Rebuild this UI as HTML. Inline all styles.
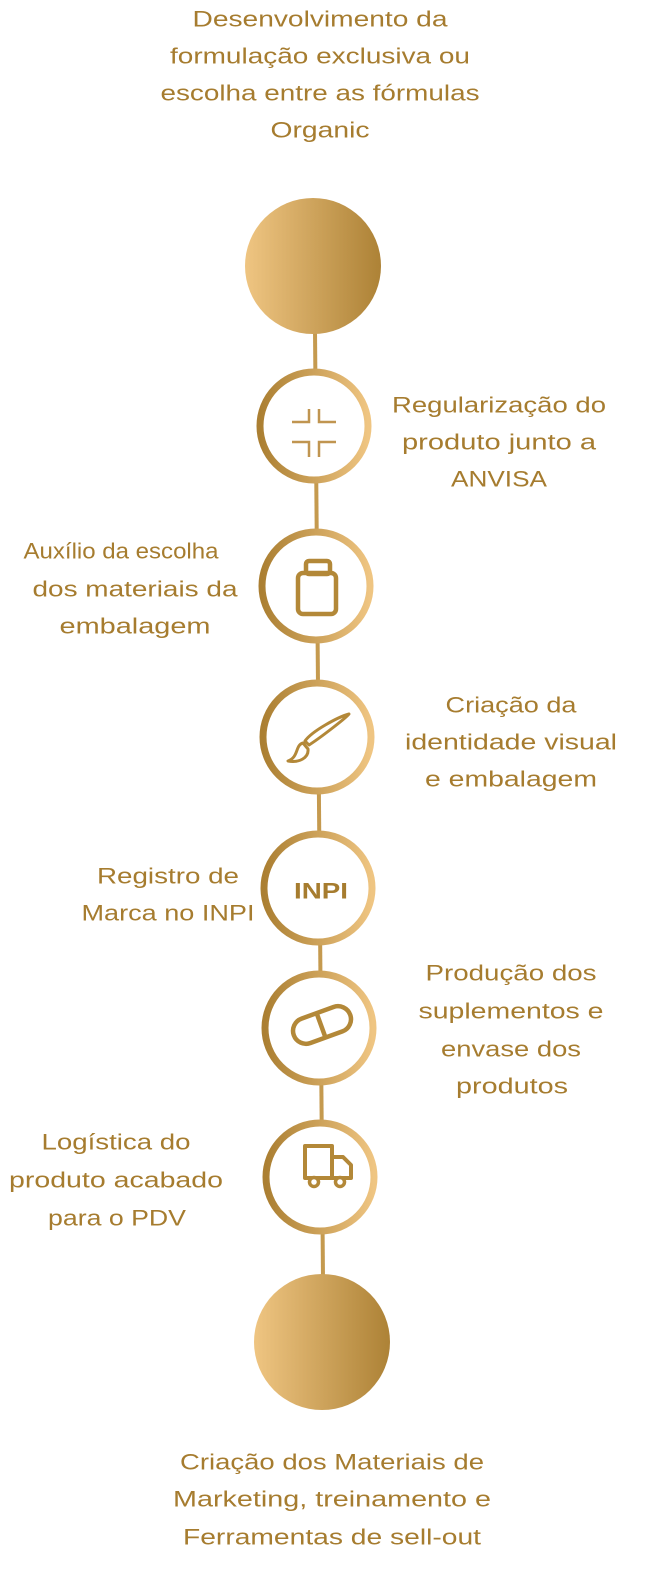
<!DOCTYPE html>
<html><head><meta charset="utf-8"><style>
html,body{margin:0;padding:0;background:#fff;}
svg{display:block}
text{font-family:"Liberation Sans",sans-serif;font-size:22px;fill:#a67c2f;text-anchor:middle;dominant-baseline:central}
</style></head><body>
<svg width="645" height="1593" viewBox="0 0 645 1593" xmlns="http://www.w3.org/2000/svg">
<defs>
<linearGradient id="fill" x1="0" x2="1" y1="0" y2="0"><stop offset="0" stop-color="#efc582"/><stop offset="1" stop-color="#ad8236"/></linearGradient>
<linearGradient id="ring" x1="0" x2="1" y1="0" y2="0"><stop offset="0" stop-color="#ab7f32"/><stop offset="1" stop-color="#efc582"/></linearGradient>
</defs>
<line x1="315" y1="330" x2="323" y2="1280" stroke="#c59a4f" stroke-width="4"/>
<circle cx="313" cy="266" r="68" fill="url(#fill)"/>
<circle cx="322" cy="1342" r="68" fill="url(#fill)"/>
<g fill="#fff" stroke="url(#ring)" stroke-width="7">
<circle cx="314" cy="426" r="54"/>
<circle cx="316" cy="586" r="54"/>
<circle cx="317" cy="737" r="54"/>
<circle cx="318" cy="888" r="54"/>
<circle cx="319" cy="1028" r="54"/>
<circle cx="320" cy="1177" r="54"/>
</g>
<g stroke="#b38838" stroke-width="3" fill="none">
<path d="M309 409 V422 H292 M319 409 V422 H336 M309 457 V442 H292 M319 457 V442 H336" stroke-width="2.5" stroke="#c09550"/>
<rect x="306" y="561" width="24" height="13" rx="3" stroke-width="4.5"/>
<rect x="298" y="573" width="38" height="41" rx="5" stroke-width="4.5"/>
<path d="M349 714 C346 718 320 738 309 745 L305 741 C312 731 338 717 349 714 Z M305 741 L309 745 M303 743 C295 745 299 757 288 761 C299 763 309 758 308 749 Z" stroke-width="3" stroke-linejoin="round"/>
<g transform="rotate(-20 322 1025)"><rect x="292" y="1012" width="60" height="26" rx="13" stroke-width="4.5"/><line x1="321" y1="1012" x2="321" y2="1038" stroke-width="4.5"/></g>
<path d="M305 1146 H332 V1178 H305 Z M332 1157 H343 L351 1165 V1178 H332" stroke-width="4" stroke-linejoin="round"/>
<circle cx="314" cy="1182" r="4.5" fill="#fff" stroke-width="3.5"/><circle cx="340" cy="1182" r="4.5" fill="#fff" stroke-width="3.5"/>
</g>
<text x="321" y="891" style="font-weight:bold;font-size:22px" textLength="54" lengthAdjust="spacingAndGlyphs">INPI</text>
<text x="320" y="19" textLength="255" lengthAdjust="spacingAndGlyphs">Desenvolvimento da</text>
<text x="320" y="56" textLength="300" lengthAdjust="spacingAndGlyphs">formulação exclusiva ou</text>
<text x="320" y="93" textLength="319" lengthAdjust="spacingAndGlyphs">escolha entre as fórmulas</text>
<text x="320" y="130" textLength="99" lengthAdjust="spacingAndGlyphs">Organic</text>
<text x="499" y="405" textLength="214" lengthAdjust="spacingAndGlyphs">Regularização do</text>
<text x="499" y="442" textLength="194" lengthAdjust="spacingAndGlyphs">produto junto a</text>
<text x="499" y="479" textLength="96" lengthAdjust="spacingAndGlyphs">ANVISA</text>
<text x="121" y="551" textLength="195" lengthAdjust="spacingAndGlyphs">Auxílio da escolha</text>
<text x="135" y="589" textLength="205" lengthAdjust="spacingAndGlyphs">dos materiais da</text>
<text x="135" y="626" textLength="151" lengthAdjust="spacingAndGlyphs">embalagem</text>
<text x="511" y="705" textLength="131" lengthAdjust="spacingAndGlyphs">Criação da</text>
<text x="511" y="742" textLength="212" lengthAdjust="spacingAndGlyphs">identidade visual</text>
<text x="511" y="779" textLength="172" lengthAdjust="spacingAndGlyphs">e embalagem</text>
<text x="168" y="876" textLength="142" lengthAdjust="spacingAndGlyphs">Registro de</text>
<text x="168" y="913" textLength="173" lengthAdjust="spacingAndGlyphs">Marca no INPI</text>
<text x="511" y="973" textLength="171" lengthAdjust="spacingAndGlyphs">Produção dos</text>
<text x="511" y="1011" textLength="185" lengthAdjust="spacingAndGlyphs">suplementos e</text>
<text x="511" y="1049" textLength="140" lengthAdjust="spacingAndGlyphs">envase dos</text>
<text x="512" y="1086" textLength="112" lengthAdjust="spacingAndGlyphs">produtos</text>
<text x="116" y="1142" textLength="149" lengthAdjust="spacingAndGlyphs">Logística do</text>
<text x="116" y="1180" textLength="214" lengthAdjust="spacingAndGlyphs">produto acabado</text>
<text x="117" y="1218" textLength="138" lengthAdjust="spacingAndGlyphs">para o PDV</text>
<text x="332" y="1462" textLength="304" lengthAdjust="spacingAndGlyphs">Criação dos Materiais de</text>
<text x="332" y="1499" textLength="318" lengthAdjust="spacingAndGlyphs">Marketing, treinamento e</text>
<text x="332" y="1537" textLength="298" lengthAdjust="spacingAndGlyphs">Ferramentas de sell-out</text>
</svg>
</body></html>
